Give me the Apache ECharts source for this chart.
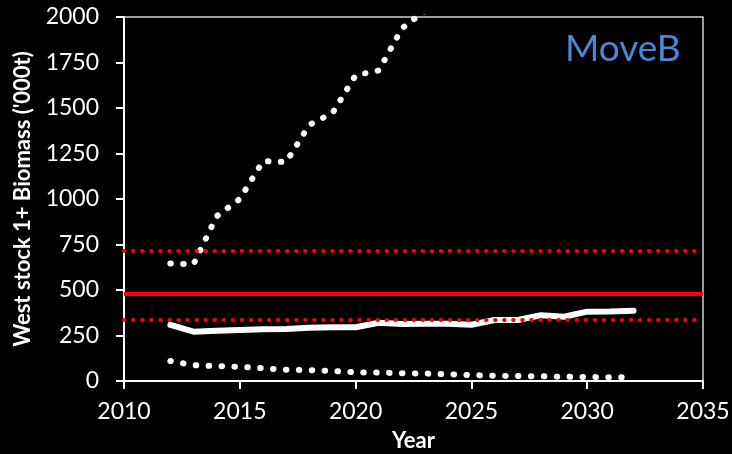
<!DOCTYPE html>
<html>
<head>
<meta charset="utf-8">
<script src="https://cdn.jsdelivr.net/npm/echarts@6/dist/echarts.min.js"></script>
<style>
  html, body { margin: 0; padding: 0; background: #000; }
  #chart { width: 732px; height: 454px; }
</style>
</head>
<body>
<div id="chart"></div>
<script>
// Projection years and West stock 1+ biomass ('000 t)
const years = [2012, 2013, 2014, 2015, 2016, 2017, 2018, 2019, 2020, 2021, 2022,
               2023, 2024, 2025, 2026, 2027, 2028, 2029, 2030, 2031, 2032];
const median = [308, 271, 276, 280, 284, 286, 293, 295, 295, 320, 313,
                315, 315, 309, 335, 335, 361, 353, 381, 382, 386];
const lower = [110, 87, 82, 78, 70, 62, 60, 55, 48, 46, 43,
               41, 37, 32, 29, 27, 26, 23, 22, 20, 20];
// Upper bound leaves the plotted range after 2023
const upperYears = [2012, 2013, 2014, 2015, 2016, 2017, 2018, 2019, 2020, 2021, 2022, 2023];
const upper = [646, 641, 905, 1000, 1208, 1203, 1407, 1472, 1680, 1706, 1937, 2035];

// Reference levels
const refLevel = 482;
const refUpper = 713;
const refLower = 335;

const xTicks = { min: 2010, max: 2035, interval: 5 };
const yTicks = { min: 0, max: 2000, interval: 250 };
const scenario = 'MoveB';

const pairs = (xs, ys) => xs.map((x, i) => [x, ys[i]]);
const plain = v => String(v);

const FONT = 'Lato';
const chart = echarts.init(document.getElementById('chart'), null, { renderer: 'canvas' });

const dotted = (color, width, gap) => ({
  color: color, width: width, type: [0.5, gap], cap: 'round', join: 'round'
});

chart.setOption({
  backgroundColor: '#000',
  animation: false,
  grid: {
    left: 124, right: 29, top: 17, bottom: 73,
    containLabel: false, outerBoundsMode: 'none',
    show: true, borderColor: '#d0d0d0', borderWidth: 1.5, backgroundColor: 'transparent'
  },
  xAxis: {
    type: 'value',
    min: xTicks.min, max: xTicks.max, interval: xTicks.interval,
    name: 'Year', nameLocation: 'middle', nameGap: 49,
    nameTextStyle: { color: '#fff', fontFamily: FONT, fontWeight: 'bold', fontSize: 22 },
    axisLine: { show: true, lineStyle: { color: '#fff', width: 2 } },
    axisTick: { show: true, inside: false, length: 8, lineStyle: { color: '#fff', width: 2 } },
    axisLabel: { color: '#fff', fontFamily: FONT, fontSize: 23, margin: 19, formatter: plain },
    splitLine: { show: false }
  },
  yAxis: {
    type: 'value',
    min: yTicks.min, max: yTicks.max, interval: yTicks.interval,
    name: "West stock 1+ Biomass ('000t)", nameLocation: 'middle', nameGap: 90,
    nameTextStyle: { color: '#fff', fontFamily: FONT, fontWeight: 'bold', fontSize: 22 },
    axisLine: { show: true, lineStyle: { color: '#fff', width: 2 } },
    axisTick: { show: true, inside: false, length: 8, lineStyle: { color: '#fff', width: 2 } },
    axisLabel: { color: '#fff', fontFamily: FONT, fontSize: 23, margin: 25, formatter: plain },
    splitLine: { show: false }
  },
  graphic: [{
    type: 'text', left: 565, top: 31,
    style: { text: scenario, fill: '#4a87d8', font: '37px ' + FONT }
  }],
  series: [
    {
      name: 'Upper', type: 'line', data: pairs(upperYears, upper),
      showSymbol: false, clip: true, z: 3,
      lineStyle: dotted('#fff', 6, 12.4)
    },
    {
      name: 'Lower', type: 'line', data: pairs(years, lower),
      showSymbol: false, clip: true, z: 3,
      lineStyle: dotted('#fff', 6, 12.4)
    },
    {
      name: 'Median', type: 'line', data: pairs(years, median),
      showSymbol: false, clip: true, z: 3,
      lineStyle: { color: '#fff', width: 6, cap: 'round', join: 'round' }
    },
    {
      name: 'Reference', type: 'line', data: [], z: 4,
      markLine: {
        silent: true, symbol: ['none', 'none'], label: { show: false },
        data: [
          { yAxis: refLevel, lineStyle: { color: '#ff0000', width: 4, type: 'solid' } },
          { yAxis: refUpper, lineStyle: dotted('#ff0000', 4, 8.55) },
          { yAxis: refLower, lineStyle: dotted('#ff0000', 4, 8.55) }
        ]
      }
    }
  ]
});
</script>
</body>
</html>
